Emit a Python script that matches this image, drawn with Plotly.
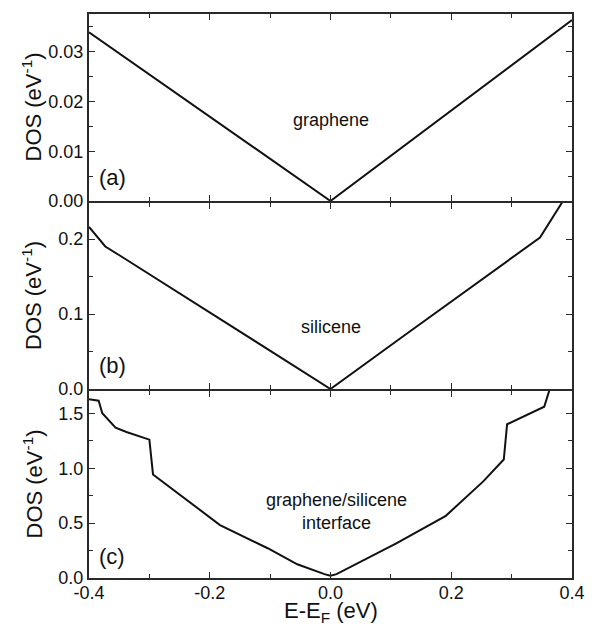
import plotly.graph_objects as go
from plotly.subplots import make_subplots

# ---- data ----
energy_graphene = [-0.4, 0.0, 0.4]
dos_graphene = [0.0339, 0.0, 0.0364]

energy_silicene = [-0.4, -0.373, -0.349, 0.0, 0.125, 0.248, 0.347, 0.383, 0.40]
dos_silicene = [0.216, 0.190, 0.178, 0.0, 0.073, 0.145, 0.202, 0.248, 0.270]

energy_interface = [-0.4, -0.384, -0.378, -0.366, -0.356, -0.338, -0.300, -0.294,
                    -0.240, -0.183, -0.104, -0.055, -0.010, 0.0, 0.010, 0.055,
                    0.109, 0.191, 0.253, 0.287, 0.2925, 0.354, 0.362, 0.37]
dos_interface = [1.627, 1.615, 1.50, 1.43, 1.37, 1.33, 1.26, 0.943,
                 0.720, 0.482, 0.271, 0.125, 0.035, 0.02, 0.035, 0.16,
                 0.316, 0.566, 0.88, 1.079, 1.40, 1.56, 1.70, 1.95]

x_tickvals = [-0.4, -0.2, 0.0, 0.2, 0.4]
x_ticktext = ["-0.4", "-0.2", "0.0", "0.2", "0.4"]
ya_tickvals = [0.0, 0.01, 0.02, 0.03]
ya_ticktext = ["0.00", "0.01", "0.02", "0.03"]
yb_tickvals = [0.0, 0.1, 0.2]
yb_ticktext = ["0.0", "0.1", "0.2"]
yc_tickvals = [0.0, 0.5, 1.0, 1.5]
yc_ticktext = ["0.0", "0.5", "1.0", "1.5"]

FONT = "Liberation Sans, Arial, sans-serif"
AX = "#2a2a2a"
LW = 2
PLOT_H = 627 - 14 - 49  # 564 px

fig = make_subplots(rows=3, cols=1, shared_xaxes=True, vertical_spacing=0.01)

line = dict(color="#111111", width=2)
fig.add_trace(go.Scatter(x=energy_graphene, y=dos_graphene, mode="lines", line=line,
                         showlegend=False), row=1, col=1)
fig.add_trace(go.Scatter(x=energy_silicene, y=dos_silicene, mode="lines", line=line,
                         showlegend=False), row=2, col=1)
fig.add_trace(go.Scatter(x=energy_interface, y=dos_interface, mode="lines", line=line,
                         showlegend=False), row=3, col=1)

# pixel-aligned domains with a gap equal to the axis line width so lines coincide
dom_c = [0, 187 / PLOT_H]
dom_b = [189 / PLOT_H, 375 / PLOT_H]
dom_a = [377 / PLOT_H, 1]

common = dict(showline=True, linecolor=AX, linewidth=LW, mirror="ticks",
              ticks="inside", ticklen=6, tickwidth=1.2, tickcolor=AX,
              showgrid=False, zeroline=False,
              tickfont=dict(family=FONT, size=18, color="#111"))

for r in (1, 2, 3):
    fig.update_xaxes(range=[-0.4, 0.4], tickvals=x_tickvals, ticktext=x_ticktext,
                     minor=dict(ticks="inside", ticklen=4, tickwidth=1.2, tickcolor=AX,
                                dtick=0.1, tick0=0, showgrid=False),
                     row=r, col=1, **common)
fig.update_xaxes(ticklabelstandoff=-3, row=3, col=1)

fig.update_yaxes(range=[0, 0.0376], tickvals=ya_tickvals, ticktext=ya_ticktext,
                 domain=dom_a,
                 minor=dict(ticks="inside", ticklen=4, tickwidth=1.2, tickcolor=AX,
                            dtick=0.005, tick0=0, showgrid=False),
                 row=1, col=1, **common)
fig.update_yaxes(range=[0, 0.248], tickvals=yb_tickvals, ticktext=yb_ticktext,
                 domain=dom_b,
                 minor=dict(ticks="inside", ticklen=4, tickwidth=1.2, tickcolor=AX,
                            dtick=0.05, tick0=0, showgrid=False),
                 row=2, col=1, **common)
fig.update_yaxes(range=[0, 1.703], tickvals=yc_tickvals, ticktext=yc_ticktext,
                 domain=dom_c,
                 minor=dict(ticks="inside", ticklen=4, tickwidth=1.2, tickcolor=AX,
                            dtick=0.25, tick0=0, showgrid=False),
                 row=3, col=1, **common)

ann = []
txt = dict(family=FONT, size=18, color="#111")
big = dict(family=FONT, size=22, color="#111")
ann.append(dict(x=0.0, y=0.0162, xref="x", yref="y", text="graphene",
                showarrow=False, font=txt, xanchor="center", yanchor="middle"))
ann.append(dict(x=0.0, y=0.0826, xref="x2", yref="y2", text="silicene",
                showarrow=False, font=txt, xanchor="center", yanchor="middle"))
ann.append(dict(x=0.010, y=0.604, xref="x3", yref="y3", text="graphene/silicene<br>interface",
                showarrow=False, font=txt, xanchor="center", yanchor="middle"))
ann.append(dict(x=-0.386, y=0.0048, xref="x", yref="y", text="(a)",
                showarrow=False, font=big, xanchor="left", yanchor="middle"))
ann.append(dict(x=-0.386, y=0.032, xref="x2", yref="y2", text="(b)",
                showarrow=False, font=big, xanchor="left", yanchor="middle"))
ann.append(dict(x=-0.386, y=0.193, xref="x3", yref="y3", text="(c)",
                showarrow=False, font=big, xanchor="left", yanchor="middle"))

# y-axis titles (one per panel)
for dom in (dom_a, dom_b, dom_c):
    ann.append(dict(x=0, y=(dom[0] + dom[1]) / 2, xref="paper", yref="paper",
                    text="DOS (eV<sup>-1</sup>)",
                    textangle=-90, showarrow=False, font=big, xanchor="center",
                    yanchor="middle", xshift=-57))
# x-axis title
ann.append(dict(x=0.5, y=0, xref="paper", yref="paper", text="E-E<sub>F</sub> (eV)",
                showarrow=False, font=big, xanchor="center", yanchor="bottom", yshift=-50))

fig.update_layout(width=597, height=627,
                  margin=dict(l=89, r=19, t=14, b=49),
                  paper_bgcolor="white", plot_bgcolor="white",
                  annotations=ann, font=dict(family=FONT))

fig.write_html("out.html")
